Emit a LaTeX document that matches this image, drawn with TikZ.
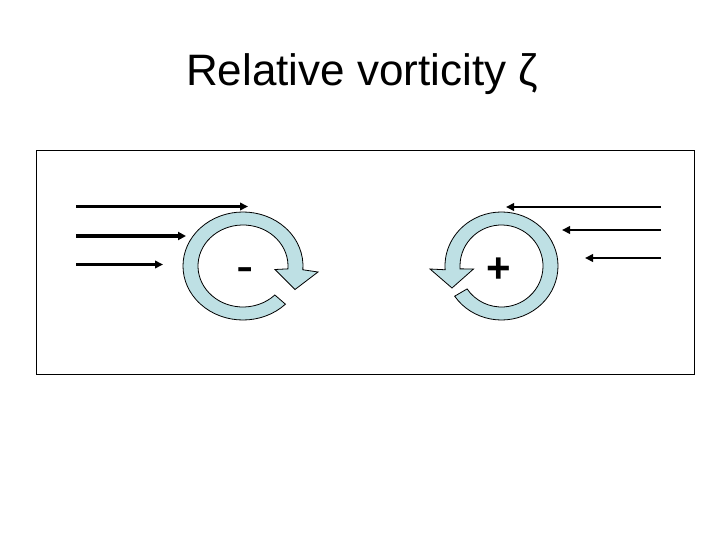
\documentclass[tikz,border=0pt]{standalone}
\usepackage{fontspec}
\setmainfont{Liberation Sans}
\usetikzlibrary{arrows.meta,calc}
\definecolor{ringblue}{RGB}{190,224,228}
\tikzset{
  flow/.style={line width=2.6pt,-{Triangle[length=8pt,width=7.5pt]}},
  flowthick/.style={line width=3.6pt,-{Triangle[length=8pt,width=8pt]}},
  ring/.style={fill=ringblue,draw=black,line width=0.8pt,line join=miter},
  frame/.style={draw=black,line width=1.3pt},
  sign/.style={inner sep=0pt,anchor=base}
}
\begin{document}
\begin{tikzpicture}[x=1pt,y=-1pt]
\useasboundingbox[fill=white] (0,0) rectangle (720,540);
% title
\node[anchor=base] (title) at (362,86) {\fontsize{44}{50}\selectfont Relative vorticity ζ};
% frame
\node[frame,minimum width=657.5pt,minimum height=223.5pt,inner sep=0pt] (box) at (365.5,262.5) {};
% left flow arrows
\coordinate (la1s) at (76,206.5); \coordinate (la1e) at (248,206.5);
\coordinate (la2s) at (76,236);   \coordinate (la2e) at (186,236);
\coordinate (la3s) at (76,264.5); \coordinate (la3e) at (163,264.5);
\draw[flow] (la1s) -- (la1e);
\draw[flowthick] (la2s) -- (la2e);
\draw[flow] (la3s) -- (la3e);
% right flow arrows
\coordinate (ra1s) at (661,207); \coordinate (ra1e) at (506,207);
\coordinate (ra2s) at (661,230); \coordinate (ra2e) at (562,230);
\coordinate (ra3s) at (661,258); \coordinate (ra3e) at (585,258);
\draw[flow] (ra1s) -- (ra1e);
\draw[flow] (ra2s) -- (ra2e);
\draw[flow] (ra3s) -- (ra3e);
% left ring (clockwise)
\coordinate (L) at (243,266);
\draw[ring] ($(L)+(45:60 and 54)$)
  arc[start angle=45,end angle=364,x radius=60,y radius=54]
  -- (318,272) -- (295,289.5) -- (275,269.5)
  -- ($(L)+(364:45 and 41)$)
  arc[start angle=364,end angle=45,x radius=45,y radius=41] -- cycle;
% right ring (counterclockwise)
\coordinate (R) at (501.5,266);
\draw[ring] ($(R)+(146:56.5 and 54)$)
  arc[start angle=146,end angle=-184,x radius=56.5,y radius=54]
  -- (430,269) -- (452,288) -- (473.5,269)
  -- ($(R)+(-184:41.5 and 41)$)
  arc[start angle=-184,end angle=146,x radius=41.5,y radius=41] -- cycle;
% signs
\node[sign] (minus) at (245.5,283.5) {\fontsize{52}{52}\selectfont -};
\node[sign] (plus) at (499,282) {\fontsize{42}{42}\selectfont\bfseries +};
\end{tikzpicture}
\end{document}
